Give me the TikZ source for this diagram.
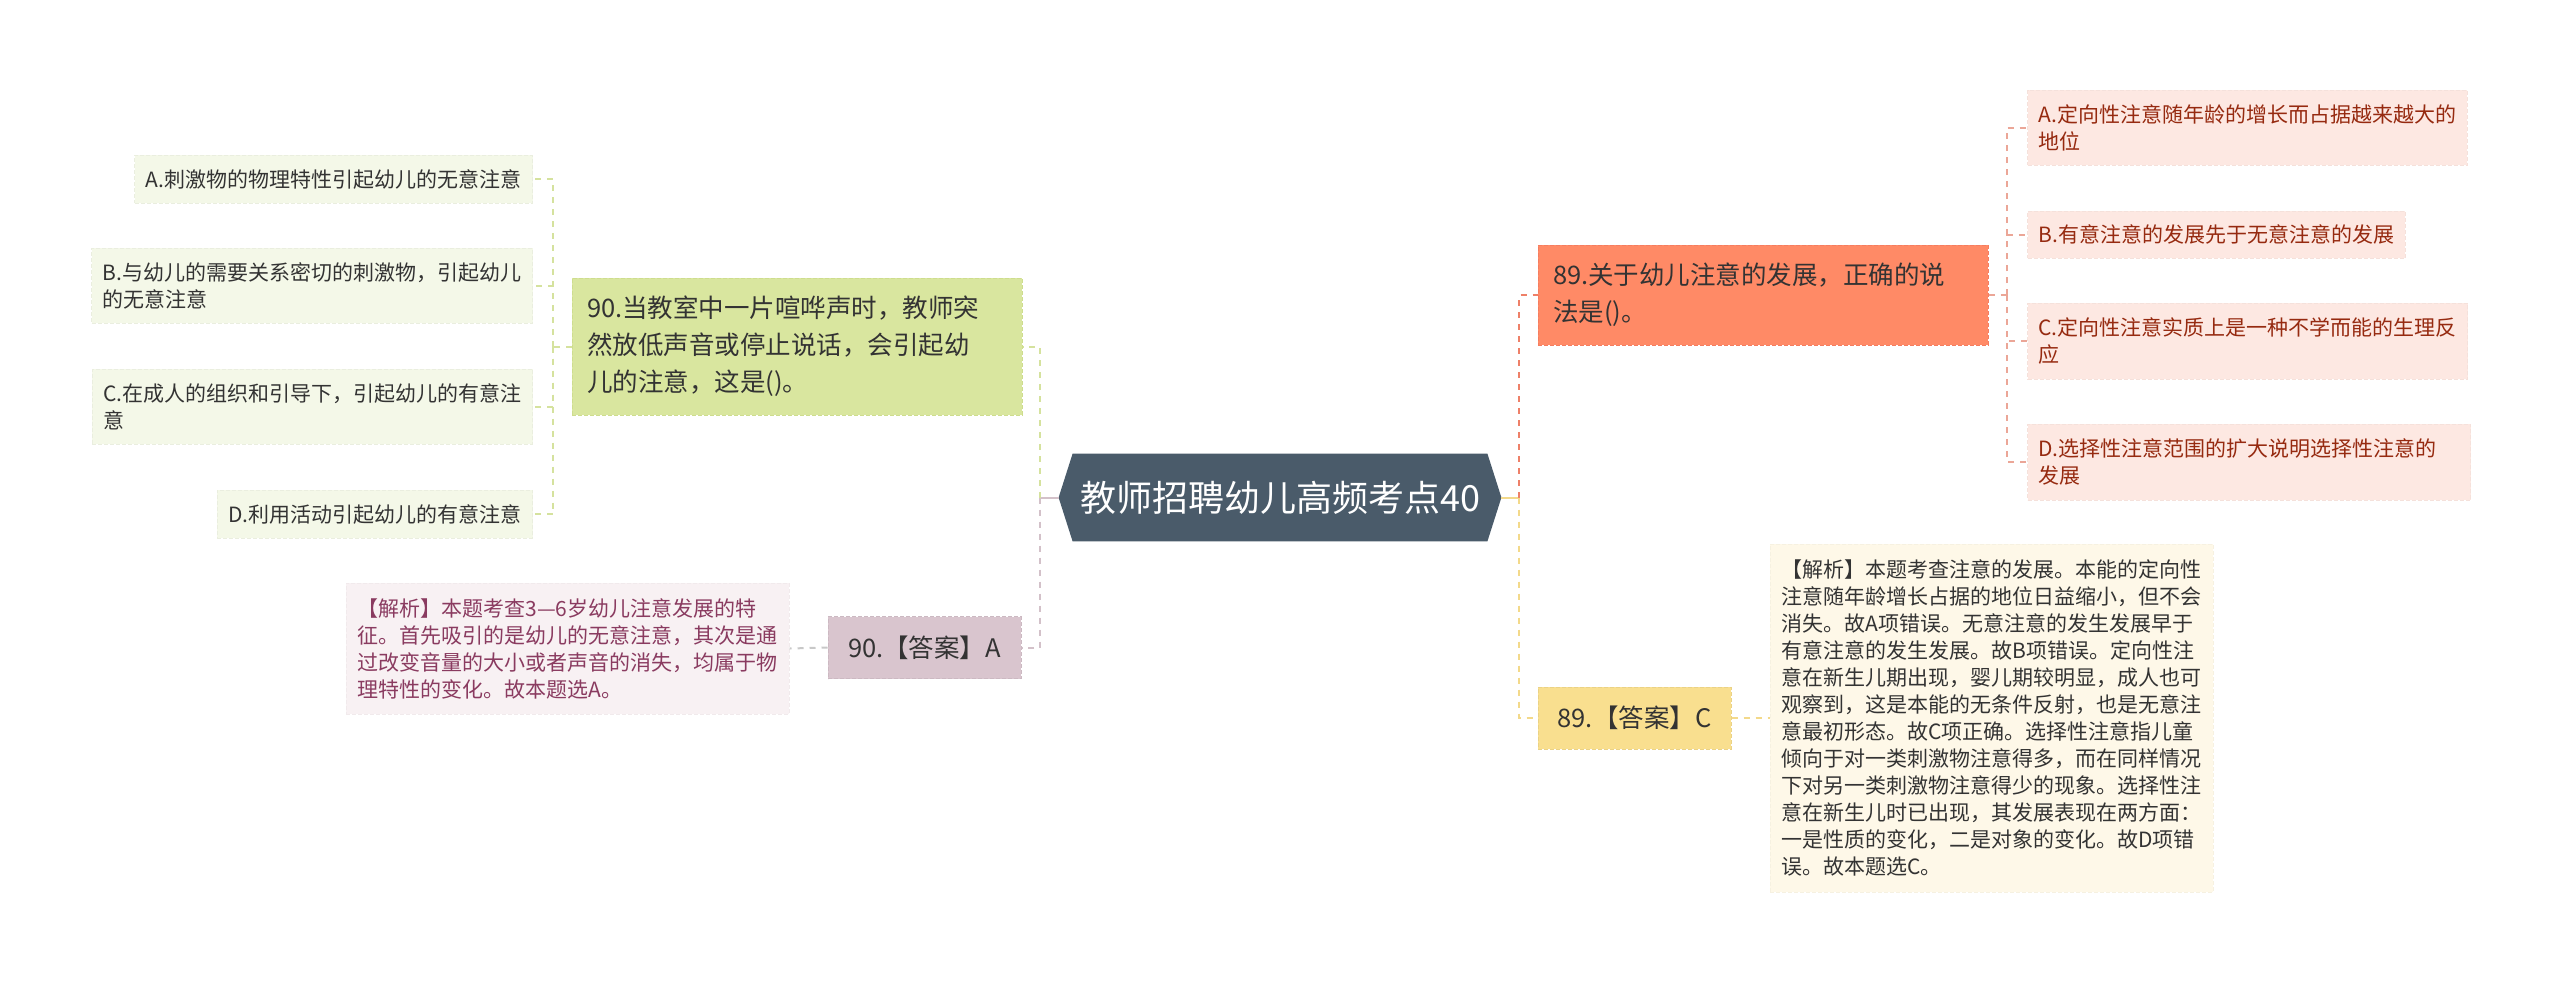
\documentclass[tikz,border=0pt]{standalone}
\usepackage{fontspec}
\setmainfont{Noto Sans CJK SC}
\usetikzlibrary{backgrounds}
\definecolor{topicbg}{HTML}{4A5B6A}
\definecolor{qgreen}{HTML}{D9E69F}
\definecolor{qgreenline}{HTML}{CEDD8E}
\definecolor{optgreen}{HTML}{F4F8E8}
\definecolor{ansmauve}{HTML}{D9C5CE}
\definecolor{explmauve}{HTML}{F8F1F3}
\definecolor{expltext}{HTML}{8A3B60}
\definecolor{qsalmon}{HTML}{FF8A66}
\definecolor{qsalmonline}{HTML}{F57D60}
\definecolor{optpink}{HTML}{FDE8E2}
\definecolor{opttext}{HTML}{962A10}
\definecolor{ansyellow}{HTML}{F9DF8F}
\definecolor{explcream}{HTML}{FEF8E8}
\definecolor{greenlink}{HTML}{D5E29E}
\definecolor{mauvelink}{HTML}{D3C1C9}
\definecolor{greylink}{HTML}{C8C8C8}
\definecolor{redlink}{HTML}{EE8068}
\definecolor{pinklink}{HTML}{EBA697}
\definecolor{yellowlink}{HTML}{F3D98A}
\definecolor{textdark}{HTML}{333333}
\tikzset{
    link/.style={line width=1pt, dash pattern=on 3pt off 3pt},
    box/.style={align=left, inner ysep=0pt, line width=0.5pt, dash pattern=on 2pt off 1pt},
    small/.style={font=\fontsize{10.5pt}{13.5pt}\selectfont},
    large/.style={font=\fontsize{12.75pt}{18.5pt}\selectfont},
    question/.style={box, large, text=textdark, text width=210pt, inner xsep=7.5pt},
    leftopt/.style={box, small, fill=optgreen, draw=optgreen!96!black, text=textdark, inner xsep=5.5pt, anchor=east},
    rightopt/.style={box, small, fill=optpink, draw=optpink!97!black, text=opttext, inner xsep=5.5pt, anchor=west},
    answer/.style={box, large, text=textdark, align=center, minimum width=96.5pt, minimum height=31pt},
    explain/.style={box, small, text width=210pt, inner xsep=5.75pt}
}
\begin{document}
\begin{tikzpicture}[x=0.5pt,y=-0.5pt]
    \useasboundingbox (0,0) rectangle (2560,982);

    % central topic
    \node[text=white, font=\fontsize{18pt}{22pt}\selectfont, minimum width=221pt, minimum height=43.5pt] (topic) at (1280,497.5) {教师招聘幼儿高频考点40};
    \begin{scope}[on background layer]
        \fill[topicbg] (topic.west) -- ([xshift=7pt]topic.north west) -- ([xshift=-7pt]topic.north east)
            -- (topic.east) -- ([xshift=-7pt]topic.south east) -- ([xshift=7pt]topic.south west) -- cycle;
    \end{scope}

    % question 90 and its options
    \node[question, fill=qgreen, draw=qgreenline, minimum height=68.5pt] (q90) at (797,346.5)
        {90.当教室中一片喧哗声时，教师突\\然放低声音或停止说话，会引起幼\\儿的注意，这是()。};
    \node[leftopt, minimum height=24pt] (la) at (533,179) {A.刺激物的物理特性引起幼儿的无意注意};
    \node[leftopt, minimum height=37.5pt] (lb) at (533,285.5) {B.与幼儿的需要关系密切的刺激物，引起幼儿\\的无意注意};
    \node[leftopt, minimum height=37.5pt] (lc) at (533,406.5) {C.在成人的组织和引导下，引起幼儿的有意注\\意};
    \node[leftopt, minimum height=24pt] (ld) at (533,514) {D.利用活动引起幼儿的有意注意};

    \node[answer, fill=ansmauve, draw=ansmauve!94!black] (ansA) at (924.5,647.5) {90.【答案】A};
    \node[explain, fill=explmauve, draw=explmauve!97!black, text=expltext, minimum height=65.5pt] (explA) at (567.5,648.5)
        {【解析】本题考查3—6岁幼儿注意发展的特\\征。首先吸引的是幼儿的无意注意，其次是通\\过改变音量的大小或者声音的消失，均属于物\\理特性的变化。故本题选A。};

    % question 89 and its options
    \node[question, fill=qsalmon, draw=qsalmonline, minimum height=50pt] (q89) at (1763,295)
        {89.关于幼儿注意的发展，正确的说\\法是()。};
    \node[rightopt, minimum height=37.5pt] (ra) at (2027,127.5) {A.定向性注意随年龄的增长而占据越来越大的\\地位};
    \node[rightopt, minimum height=23.5pt] (rb) at (2027,234.5) {B.有意注意的发展先于无意注意的发展};
    \node[rightopt, minimum height=38pt] (rc) at (2027,341) {C.定向性注意实质上是一种不学而能的生理反\\应};
    \node[rightopt, minimum height=38pt, text width=210.5pt] (rd) at (2027,462) {D.选择性注意范围的扩大说明选择性注意的\\发展};

    \node[answer, fill=ansyellow, draw=ansyellow!94!black] (ansC) at (1634.5,718) {89.【答案】C};
    \node[explain, fill=explcream, draw=explcream!97!black, text=textdark, minimum height=174pt] (explC) at (1991.5,718)
        {【解析】本题考查注意的发展。本能的定向性\\注意随年龄增长占据的地位日益缩小，但不会\\消失。故A项错误。无意注意的发生发展早于\\有意注意的发生发展。故B项错误。定向性注\\意在新生儿期出现，婴儿期较明显，成人也可\\观察到，这是本能的无条件反射，也是无意注\\意最初形态。故C项正确。选择性注意指儿童\\倾向于对一类刺激物注意得多，而在同样情况\\下对另一类刺激物注意得少的现象。选择性注\\意在新生儿时已出现，其发展表现在两方面：\\一是性质的变化，二是对象的变化。故D项错\\误。故本题选C。};

    % junctions
    \coordinate (jl) at (1040,497.5);
    \coordinate (jr) at (1519,497.5);
    \coordinate (j90) at (553,346.5);
    \coordinate (j89) at (2007,295);

    % connectors, left side
    \draw[mauvelink, line width=1pt] (topic.west) -- (jl);
    \draw[link, greenlink] (jl) |- (q90.east);
    \draw[link, mauvelink] (jl) |- (ansA.east);
    \draw[link, greenlink] (q90.west) -- (j90);
    \foreach \opt in {la,lb,lc,ld}
        \draw[link, greenlink] (j90) |- (\opt.east);
    \draw[link, greylink] (ansA.west) -- (explA.east);

    % connectors, right side
    \draw[yellowlink, line width=1pt] (topic.east) -- (jr);
    \draw[link, redlink] (jr) |- (q89.west);
    \draw[link, yellowlink] (jr) |- (ansC.west);
    \draw[link, pinklink] (q89.east) -- (j89);
    \foreach \opt in {ra,rb,rc,rd}
        \draw[link, pinklink] (j89) |- (\opt.west);
    \draw[link, yellowlink] (ansC.east) -- (explC.west);
\end{tikzpicture}
\end{document}
